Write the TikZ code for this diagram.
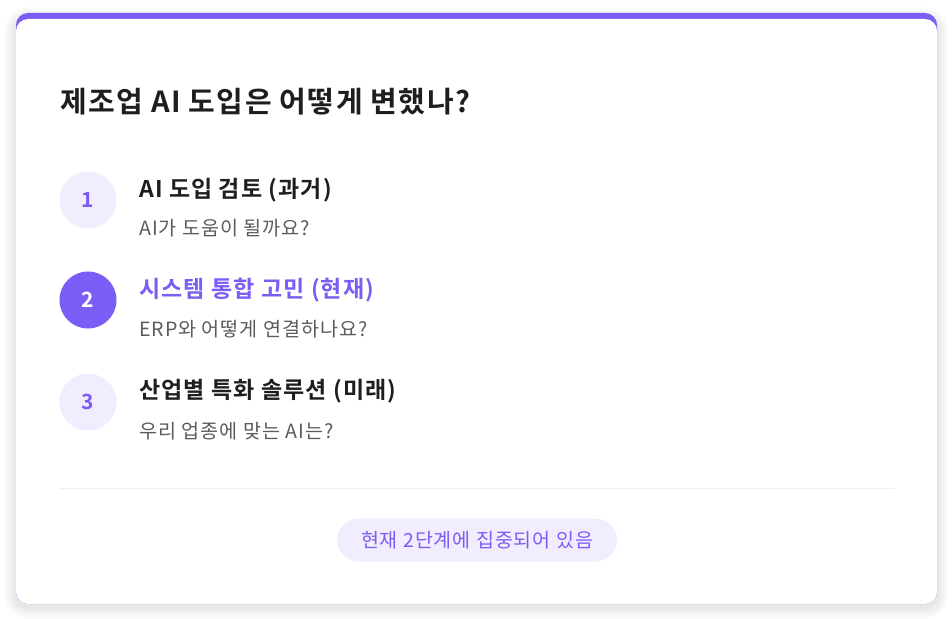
\documentclass[tikz,border=0pt]{standalone}
\usepackage{fontspec}
\setmainfont{Noto Sans CJK KR}[BoldFont={Noto Sans CJK KR Bold},LetterSpace=5]

\definecolor{stepviolet}{HTML}{7B5CF5}
\definecolor{steplilac}{HTML}{F1EDFE}
\definecolor{stepink}{HTML}{1E1E1E}
\definecolor{stepgrey}{HTML}{5C5C5C}
\definecolor{steprule}{HTML}{EFEFEF}

\begin{document}
\begin{tikzpicture}[x=1pt,y=-1pt,
    stepnum/.style={circle,minimum size=57pt,inner sep=0pt,fill=steplilac,
      text=stepviolet,font=\bfseries\fontsize{21}{24}\selectfont},
    stepnow/.style={stepnum,fill=stepviolet,text=white},
    steptitle/.style={anchor=west,inner sep=0pt,text=stepink,
      font=\bfseries\fontsize{23}{27}\selectfont},
    stepsub/.style={anchor=west,inner sep=0pt,text=stepgrey,
      font=\fontsize{19.6}{23}\selectfont},
    pill/.style={rounded corners=21.5pt,fill=steplilac,text=stepviolet,
      minimum width=280pt,minimum height=43pt,inner sep=0pt,
      font=\fontsize{19.5}{22}\selectfont}]

     \useasboundingbox[fill=white] (0,0) rectangle (952,618);

     %shadow
     \foreach \s in {1,...,12}
       \fill[black,opacity=0.008,rounded corners=12pt+\s pt]
         (16-\s,13-\s+6) rectangle (937+\s,604+\s+3);

     %card
     \fill[stepviolet,rounded corners=12pt] (16,13) rectangle (937,604);
     \fill[white,rounded corners=12pt] (16,19) rectangle (937,604);

     %title
     \node[anchor=west,inner sep=0pt,text=stepink,font=\bfseries\fontsize{29}{33}\selectfont]
       (title) at (60,102) {제조업 AI 도입은 어떻게 변했나?};

     %step 1
     \node[stepnum]   (n1) at (88,200) {1};
     \node[steptitle] (t1) at (139,190) {AI 도입 검토 (과거)};
     \node[stepsub]   (s1) at (139,228) {AI가 도움이 될까요?};

     %step 2
     \node[stepnow]   (n2) at (88,300) {2};
     \node[steptitle,text=stepviolet] (t2) at (139,290) {시스템 통합 고민 (현재)};
     \node[stepsub]   (s2) at (139,329) {ERP와 어떻게 연결하나요?};

     %step 3
     \node[stepnum]   (n3) at (88,402) {3};
     \node[steptitle] (t3) at (139,391) {산업별 특화 솔루션 (미래)};
     \node[stepsub]   (s3) at (139,431) {우리 업종에 맞는 AI는?};

     %footer
     \coordinate (ruleL) at (60,488);
     \coordinate (ruleR) at (895,488);
     \draw[steprule,line width=1pt] (ruleL) -- (ruleR);
     \node[pill] (focus) at (477,540) {현재 2단계에 집중되어 있음};

\end{tikzpicture}
\end{document}
